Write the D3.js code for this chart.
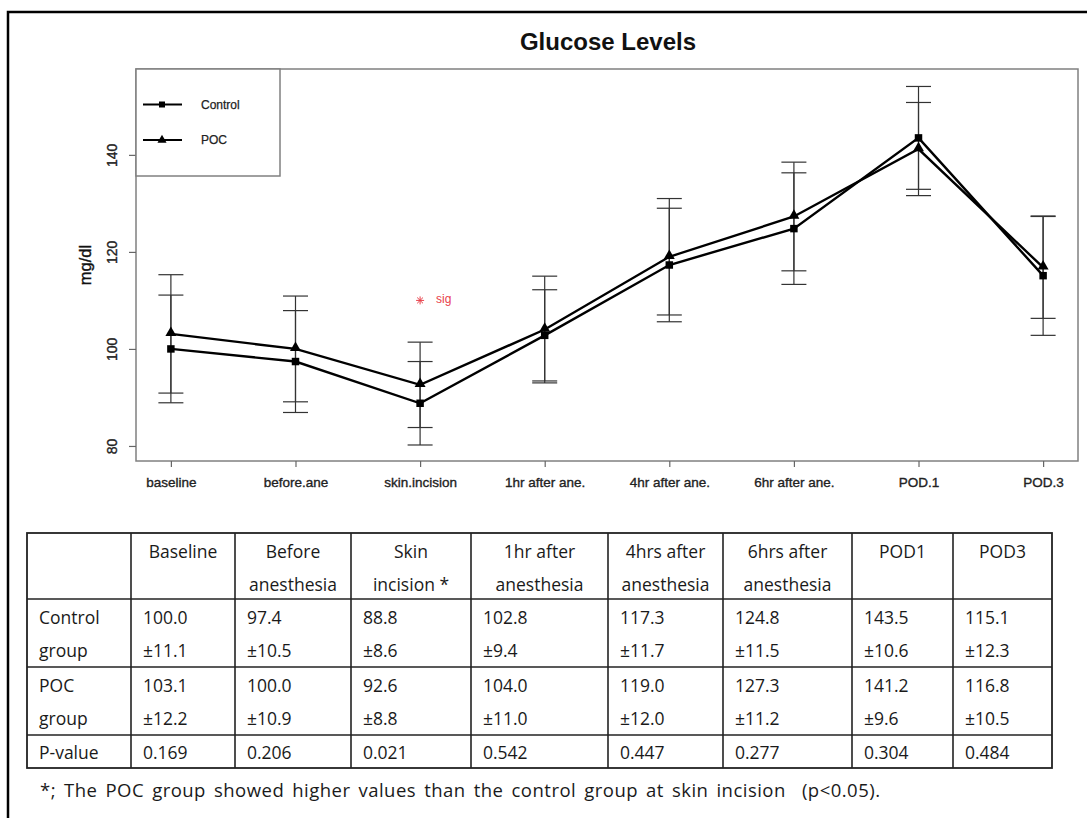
<!DOCTYPE html>
<html>
<head>
<meta charset="utf-8">
<script src="https://cdn.jsdelivr.net/npm/d3@7"></script>
<style>
  html, body { margin: 0; padding: 0; background: #fff; }
  svg { display: block; }
</style>
</head>
<body>
<svg id="chart" width="1087" height="818"></svg>
<script>
// Time points on the x axis
const categories = ["baseline", "before.ane", "skin.incision", "1hr after ane.", "4hr after ane.", "6hr after ane.", "POD.1", "POD.3"];

// Glucose (mg/dl), mean and SD per group
const controlMean = [100.0, 97.4, 88.8, 102.8, 117.3, 124.8, 143.5, 115.1];
const controlSD   = [11.1, 10.5, 8.6, 9.4, 11.7, 11.5, 10.6, 12.3];
const pocMean     = [103.1, 100.0, 92.6, 104.0, 119.0, 127.3, 141.2, 116.8];
const pocSD       = [12.2, 10.9, 8.8, 11.0, 12.0, 11.2, 9.6, 10.5];
const pValues     = ["0.169", "0.206", "0.021", "0.542", "0.447", "0.277", "0.304", "0.484"];

const yTicks = [80, 100, 120, 140];
const yDomain = [76.9, 157.7];

// significance marker
const sigCategory = "skin.incision";
const sigValue = 110;

// Table header labels (two lines each)
const tableHeaders = [
  ["Baseline", ""], ["Before", "anesthesia"], ["Skin", "incision *"], ["1hr after", "anesthesia"],
  ["4hrs after", "anesthesia"], ["6hrs after", "anesthesia"], ["POD1", ""], ["POD3", ""]
];
const rowLabels = [["Control", "group"], ["POC", "group"], ["P-value"]];
const footnote = "*; The POC group showed higher values than the control group at skin incision  (p<0.05).";

const svg = d3.select("#chart");

// outer frame (top and left edges)
svg.append("path")
  .attr("d", "M8,818 L8,12 L1087,12")
  .attr("fill", "none").attr("stroke", "#000").attr("stroke-width", 2.5);

// ---------- plot ----------
const plot = { left: 136, right: 1078, top: 69, bottom: 461 };
const x = d3.scalePoint().domain(categories).range([plot.left, plot.right]).padding(0.28);
const y = d3.scaleLinear().domain(yDomain).range([plot.bottom, plot.top]);

const axisFont = "Liberation Sans, Arial, sans-serif";

// title
svg.append("text")
  .attr("x", (plot.left + plot.right) / 2 + 1).attr("y", 50)
  .attr("text-anchor", "middle")
  .attr("font-family", axisFont).attr("font-weight", "bold").attr("font-size", 24)
  .attr("fill", "#111")
  .text("Glucose Levels");

// plot frame
svg.append("rect")
  .attr("x", plot.left).attr("y", plot.top)
  .attr("width", plot.right - plot.left).attr("height", plot.bottom - plot.top)
  .attr("fill", "none").attr("stroke", "#808080").attr("stroke-width", 1.5);

// y axis
const yAxis = d3.axisLeft(y).tickValues(yTicks).tickSize(7).tickPadding(0);
const gy = svg.append("g").attr("transform", `translate(${plot.left},0)`).call(yAxis);
gy.select(".domain").remove();
gy.selectAll(".tick line").attr("stroke", "#666").attr("stroke-width", 1.2);
gy.selectAll(".tick text")
  .attr("font-family", axisFont).attr("font-size", 14).attr("fill", "#222")
  .attr("stroke", "#222").attr("stroke-width", 0.35)
  .attr("text-anchor", "middle").attr("dy", 0).attr("x", null)
  .attr("transform", "translate(-19,0) rotate(-90)");

// y label
svg.append("text")
  .attr("transform", `translate(91,${(plot.top + plot.bottom) / 2}) rotate(-90)`)
  .attr("text-anchor", "middle")
  .attr("font-family", axisFont).attr("font-size", 16.5).attr("fill", "#111")
  .attr("stroke", "#111").attr("stroke-width", 0.4)
  .text("mg/dl");

// x axis
const xAxis = d3.axisBottom(x).tickSize(6).tickPadding(0);
const gx = svg.append("g").attr("transform", `translate(0,${plot.bottom})`).call(xAxis);
gx.select(".domain").remove();
gx.selectAll(".tick line").attr("stroke", "#666").attr("stroke-width", 1.2);
gx.selectAll(".tick text")
  .attr("font-family", axisFont).attr("font-size", 13.5).attr("fill", "#222")
  .attr("stroke", "#222").attr("stroke-width", 0.35)
  .attr("dy", 0).attr("y", 26);

// error bars
function errorBars(means, sds) {
  const g = svg.append("g").attr("stroke", "#333").attr("stroke-width", 1.2);
  const cap = 12.5;
  categories.forEach((c, i) => {
    const cx = x(c), hi = y(means[i] + sds[i]), lo = y(means[i] - sds[i]);
    g.append("line").attr("x1", cx).attr("x2", cx).attr("y1", hi).attr("y2", lo);
    g.append("line").attr("x1", cx - cap).attr("x2", cx + cap).attr("y1", hi).attr("y2", hi);
    g.append("line").attr("x1", cx - cap).attr("x2", cx + cap).attr("y1", lo).attr("y2", lo);
  });
}
errorBars(controlMean, controlSD);
errorBars(pocMean, pocSD);

// series lines
const line = d3.line().x((d, i) => x(categories[i])).y(d => y(d));
[controlMean, pocMean].forEach(m => {
  svg.append("path").datum(m).attr("d", line)
    .attr("fill", "none").attr("stroke", "#000").attr("stroke-width", 2.4)
    .attr("stroke-linejoin", "miter");
});

const squareSym = d3.symbol().type(d3.symbolSquare).size(56);
const triSym = d3.symbol().type(d3.symbolTriangle).size(52);

svg.append("g").selectAll("path").data(controlMean).join("path")
  .attr("d", squareSym)
  .attr("transform", (d, i) => `translate(${x(categories[i])},${y(d)})`)
  .attr("fill", "#000");
svg.append("g").selectAll("path").data(pocMean).join("path")
  .attr("d", triSym)
  .attr("transform", (d, i) => `translate(${x(categories[i])},${y(d) - 1})`)
  .attr("fill", "#000");

// significance star
const sx = x(sigCategory), sy = y(sigValue);
const star = svg.append("g").attr("stroke", "#e8404a").attr("stroke-width", 1).attr("transform", `translate(${sx},${sy})`);
const r = 4;
star.append("line").attr("x1", -r).attr("x2", r).attr("y1", 0).attr("y2", 0);
star.append("line").attr("x1", 0).attr("x2", 0).attr("y1", -r).attr("y2", r);
star.append("line").attr("x1", -r * 0.72).attr("x2", r * 0.72).attr("y1", -r * 0.72).attr("y2", r * 0.72);
star.append("line").attr("x1", -r * 0.72).attr("x2", r * 0.72).attr("y1", r * 0.72).attr("y2", -r * 0.72);
svg.append("text")
  .attr("x", sx + 16).attr("y", sy + 3)
  .attr("font-family", axisFont).attr("font-size", 12).attr("fill", "#e8404a")
  .text("sig");

// legend
const legend = svg.append("g");
legend.append("rect")
  .attr("x", plot.left).attr("y", plot.top).attr("width", 144).attr("height", 107)
  .attr("fill", "#fff").attr("stroke", "#808080").attr("stroke-width", 1.5);
const legendItems = [
  { name: "Control", sym: squareSym, y: 104.5 },
  { name: "POC", sym: triSym, y: 140 }
];
legendItems.forEach(it => {
  legend.append("line").attr("x1", 143).attr("x2", 182).attr("y1", it.y).attr("y2", it.y)
    .attr("stroke", "#000").attr("stroke-width", 2);
  legend.append("path").attr("d", it.sym.size(36)()).attr("transform", `translate(162,${it.y})`).attr("fill", "#000");
  legend.append("text").attr("x", 201).attr("y", it.y + 4)
    .attr("font-family", axisFont).attr("font-size", 12).attr("fill", "#222")
    .attr("stroke", "#222").attr("stroke-width", 0.25)
    .text(it.name);
});

// ---------- table ----------
const colX = [27, 131, 235, 351, 471, 608, 723, 852, 953, 1052];
const rowY = [533, 599, 667, 735, 768];
const tableFont = "'Open Sans', 'Noto Sans', sans-serif";
const tableSize = 17.5;
const tg = svg.append("g");

tg.append("rect")
  .attr("x", colX[0]).attr("y", rowY[0])
  .attr("width", colX[colX.length - 1] - colX[0]).attr("height", rowY[rowY.length - 1] - rowY[0])
  .attr("fill", "none").attr("stroke", "#222").attr("stroke-width", 1.8);
colX.slice(1, -1).forEach(cx => tg.append("line")
  .attr("x1", cx).attr("x2", cx).attr("y1", rowY[0]).attr("y2", rowY[rowY.length - 1])
  .attr("stroke", "#222").attr("stroke-width", 1.6));
rowY.slice(1, -1).forEach(ry => tg.append("line")
  .attr("x1", colX[0]).attr("x2", colX[colX.length - 1]).attr("y1", ry).attr("y2", ry)
  .attr("stroke", "#222").attr("stroke-width", 1.6));

function cellText(tx, ty, str, anchor) {
  return tg.append("text")
    .attr("x", tx).attr("y", ty)
    .attr("text-anchor", anchor)
    .attr("dominant-baseline", "central")
    .attr("font-family", tableFont).attr("font-size", tableSize).attr("fill", "#1a1a1a")
    .text(str);
}
const lineH = 33;
const pad = 12;

// header row
tableHeaders.forEach((h, i) => {
  const cx = (colX[i + 1] + colX[i + 2]) / 2;
  h.forEach((s, k) => { if (s) cellText(cx, rowY[0] + 18 + k * lineH, s, "middle"); });
});

// data rows
const fmt = d3.format(".1f");
const groups = [[controlMean, controlSD], [pocMean, pocSD]];
groups.forEach(([m, sd], r) => {
  const top = rowY[r + 1];
  rowLabels[r].forEach((s, k) => cellText(colX[0] + pad, top + 18 + k * lineH, s, "start"));
  m.forEach((v, i) => {
    cellText(colX[i + 1] + pad, top + 18, fmt(v), "start");
    cellText(colX[i + 1] + pad, top + 18 + lineH, "\u00b1" + fmt(sd[i]), "start");
  });
});
cellText(colX[0] + pad, rowY[3] + 17, rowLabels[2][0], "start");
pValues.forEach((p, i) => cellText(colX[i + 1] + pad, rowY[3] + 17, p, "start"));

// footnote, spread to span 840px
const note = cellText(40, 789, footnote, "start")
  .attr("font-size", 18.5)
  .attr("xml:space", "preserve").style("white-space", "pre");
const natural = note.node().getComputedTextLength();
const gaps = (footnote.match(/ /g) || []).length;
note.attr("word-spacing", Math.max(0, (840 - natural) / gaps / 2));
note.attr("textLength", 840).attr("lengthAdjust", "spacing");
</script>
</body>
</html>
